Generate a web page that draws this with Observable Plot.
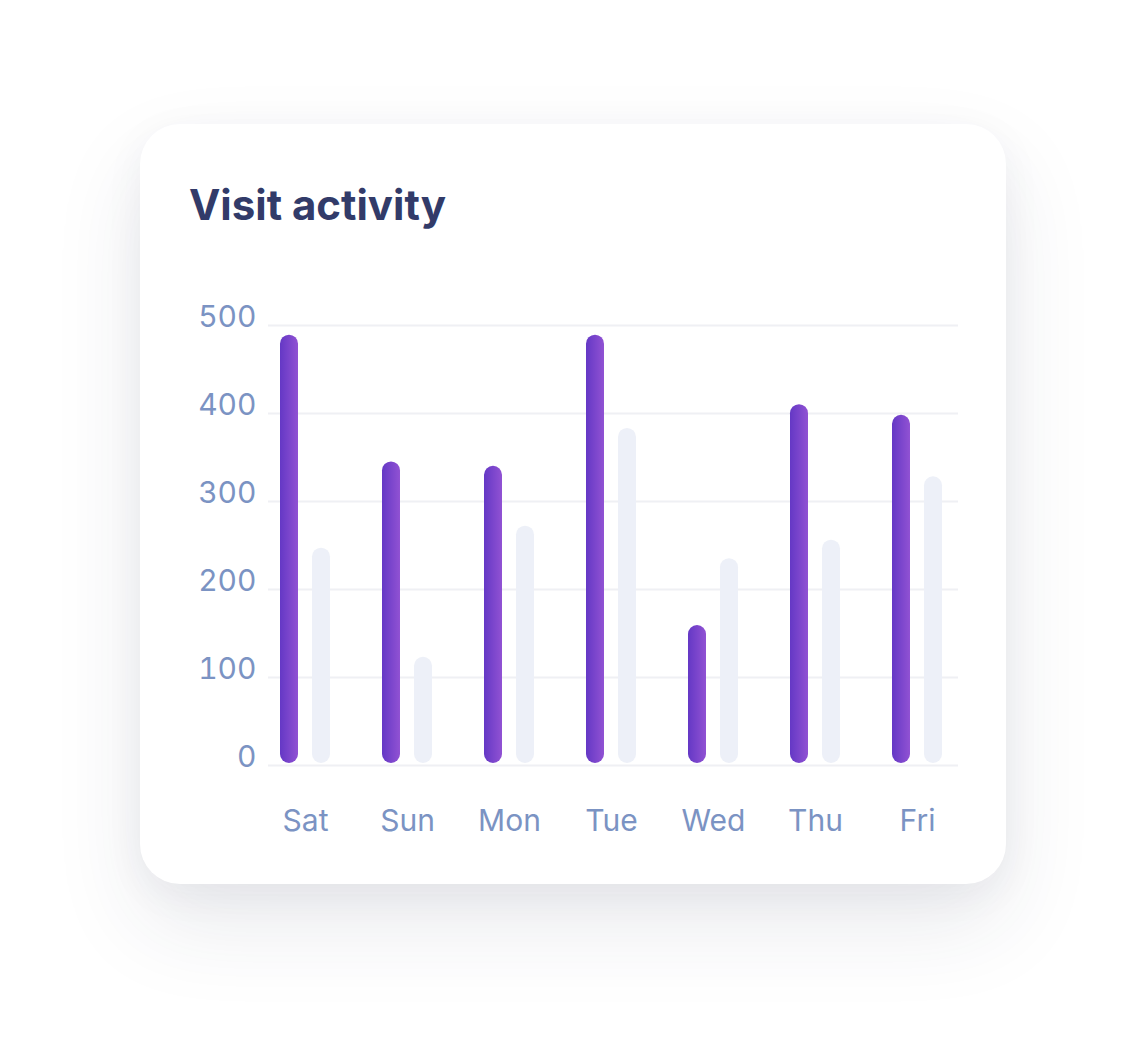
<!DOCTYPE html>
<html>
<head>
<meta charset="utf-8">
<script src="https://cdn.jsdelivr.net/npm/d3@7"></script>
<script src="https://cdn.jsdelivr.net/npm/@observablehq/plot@0.6"></script>
<style>
  html, body { margin: 0; padding: 0; background: #ffffff; width: 1147px; height: 1040px; overflow: hidden; font-family: Inter, "Noto Sans", sans-serif; }
  #card { position: absolute; left: 140px; top: 124px; width: 866px; height: 760px; background: #fff; border-radius: 40px; box-shadow: 0 40px 90px rgba(40, 45, 80, 0.10), 0 10px 40px rgba(40, 45, 80, 0.05); }
  #title { position: absolute; left: 49px; top: 55px; margin: 0; font-size: 42px; font-weight: 700; color: #323b69; letter-spacing: 0; }
  #chart { position: absolute; left: 0; top: 156px; }
</style>
</head>
<body>
<div id="card">
  <h2 id="title">Visit activity</h2>
  <div id="chart"></div>
</div>
<script>
const days = ["Sat", "Sun", "Mon", "Tue", "Wed", "Thu", "Fri"];
const primary = [489, 345, 340, 489, 159, 410, 398];
const secondary = [247, 123, 272, 383, 235, 256, 328];
const yTicks = [0, 100, 200, 300, 400, 500];

const rows = days.map((d, i) => ({day: d, primary: primary[i], secondary: secondary[i]}));

const chart = Plot.plot({
  width: 866,
  height: 580,
  marginTop: 45,
  marginBottom: 95,
  marginLeft: 128,
  marginRight: 48,
  style: {fontFamily: "Inter, 'Noto Sans', sans-serif", background: "transparent"},
  x: {type: "band", domain: days, paddingInner: 0.513, paddingOuter: 0.117, label: null},
  y: {domain: [0, 500], label: null},
  marks: [
    Plot.ruleY(yTicks, {stroke: "#eff0f4", strokeWidth: 2}),
    Plot.barY(rows, {x: "day", y: "primary", fill: "url(#purpleGrad)", rx: 9, insetRight: 32, insetBottom: 2, dx: -2}),
    Plot.barY(rows, {x: "day", y: "secondary", fill: "#edf0f8", rx: 9, insetLeft: 32, insetBottom: 2, dx: -2}),
    Plot.axisY(yTicks, {tickSize: 0, tickPadding: 12, dy: -8, fontSize: 30, fill: "#7b93c3", textAnchor: "end"}),
    Plot.axisX({tickSize: 0, tickPadding: 44, fontSize: 30, fill: "#7b93c3", dx: -2})
  ]
});

const svg = d3.select(chart);
const defs = svg.insert("defs", ":first-child");
const g = defs.append("linearGradient").attr("id", "purpleGrad").attr("x1", "0").attr("x2", "1").attr("y1", "0").attr("y2", "0");
g.append("stop").attr("offset", "0%").attr("stop-color", "#6438c5");
g.append("stop").attr("offset", "100%").attr("stop-color", "#9152d3");

document.getElementById("chart").appendChild(chart);
</script>
</body>
</html>
